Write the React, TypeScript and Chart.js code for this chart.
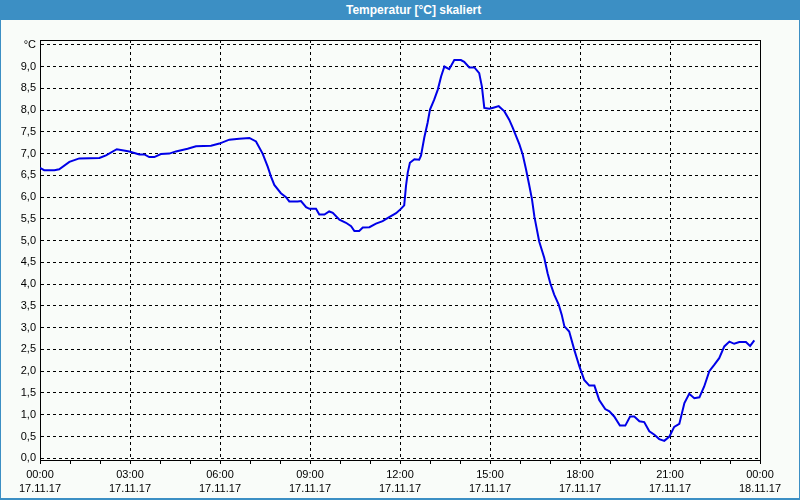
import React, { useEffect, useRef } from "react";
import { Chart, registerables } from "chart.js";

Chart.register(...registerables);

// Time of day in hours (17.11.17 00:00 = 0)
const hours: number[] = [
  0.0, 0.14, 0.48, 0.64, 0.98, 1.31, 1.98, 2.2, 2.56, 2.98, 3.31, 3.48, 3.64, 3.81,
  4.03, 4.31, 4.53, 4.92, 5.2, 5.7, 5.98, 6.31, 6.64, 6.98, 7.2, 7.42, 7.59, 7.7,
  7.81, 8.03, 8.2, 8.31, 8.59, 8.7, 8.87, 8.98, 9.2, 9.31, 9.48, 9.64, 9.76, 9.98,
  10.2, 10.37, 10.48, 10.64, 10.76, 10.98, 11.2, 11.42, 11.64, 11.87, 12.03, 12.14,
  12.2, 12.26, 12.33, 12.48, 12.64, 12.7, 12.81, 12.92, 13.0, 13.14, 13.26, 13.37,
  13.48, 13.64, 13.81, 14.03, 14.14, 14.31, 14.48, 14.64, 14.73, 14.81, 14.98, 15.14,
  15.29, 15.48, 15.64, 15.76, 15.87, 15.98, 16.09, 16.2, 16.3, 16.4, 16.48, 16.64,
  16.81, 16.92, 17.01, 17.14, 17.29, 17.39, 17.48, 17.64, 17.81, 17.98, 18.14, 18.31,
  18.48, 18.64, 18.84, 18.98, 19.14, 19.33, 19.51, 19.67, 19.81, 19.98, 20.14, 20.31,
  20.48, 20.64, 20.81, 20.98, 21.14, 21.31, 21.48, 21.64, 21.81, 21.98, 22.14, 22.31,
  22.48, 22.64, 22.81, 22.98, 23.14, 23.31, 23.53, 23.67, 23.81,
];

const temps: number[] = [
  6.67, 6.62, 6.62, 6.64, 6.81, 6.89, 6.9, 6.96, 7.1, 7.05, 6.98, 6.98, 6.92, 6.92,
  6.99, 7.0, 7.05, 7.11, 7.17, 7.18, 7.23, 7.32, 7.34, 7.36, 7.28, 7.0, 6.7, 6.47,
  6.28, 6.09, 6.0, 5.9, 5.9, 5.91, 5.77, 5.73, 5.73, 5.6, 5.6, 5.67, 5.64, 5.48,
  5.41, 5.33, 5.22, 5.22, 5.3, 5.31, 5.39, 5.45, 5.54, 5.63, 5.73, 5.81,
  6.26, 6.57, 6.79, 6.87, 6.86, 6.95, 7.37, 7.71, 8.01, 8.24, 8.47, 8.77,
  9.0, 8.94, 9.15, 9.15, 9.11, 8.98, 8.98, 8.85, 8.54, 8.05, 8.03, 8.06,
  8.09, 7.97, 7.78, 7.59, 7.4, 7.21, 6.98, 6.64, 6.3, 5.95, 5.55, 4.98,
  4.6, 4.25, 4.02, 3.76, 3.53, 3.3, 3.03, 2.91, 2.49, 2.11, 1.8, 1.67,
  1.67, 1.34, 1.13, 1.08, 0.96, 0.75, 0.75, 0.96, 0.96, 0.85, 0.83, 0.62,
  0.54, 0.44, 0.4, 0.5, 0.72, 0.79, 1.27, 1.48, 1.38, 1.4, 1.65, 2.0,
  2.15, 2.3, 2.57, 2.68, 2.63, 2.67, 2.67, 2.58, 2.71,
];

// Axis tick definitions
const yTickValues: number[] = [
  0, 0.5, 1, 1.5, 2, 2.5, 3, 3.5, 4, 4.5, 5, 5.5, 6, 6.5, 7, 7.5, 8, 8.5, 9, 9.5,
];
const yUnitLabel = "°C";
const xMajorHours: number[] = [0, 3, 6, 9, 12, 15, 18, 21, 24];
const xTimeLabels: string[] = ["00:00", "03:00", "06:00", "09:00", "12:00", "15:00", "18:00", "21:00", "00:00"];
const xDateLabels: string[] = [
  "17.11.17", "17.11.17", "17.11.17", "17.11.17", "17.11.17",
  "17.11.17", "17.11.17", "17.11.17", "18.11.17",
];

const TITLE = "Temperatur [°C] skaliert";
const FONT = "'Liberation Sans', Arial, sans-serif";

export default function App() {
  const canvasRef = useRef<HTMLCanvasElement | null>(null);

  useEffect(() => {
    const canvas = canvasRef.current;
    if (!canvas) return;

    const framePlugin = {
      id: "frame",
      beforeDatasetsDraw(chart: any) {
        const { ctx, chartArea } = chart;
        ctx.save();
        ctx.strokeStyle = "#000";
        ctx.lineWidth = 1;
        ctx.setLineDash([]);
        ctx.strokeRect(
          chartArea.left + 0.5,
          chartArea.top + 0.5,
          chartArea.right - chartArea.left,
          chartArea.bottom - chartArea.top
        );
        ctx.restore();
      },
    };

    const chart = new Chart(canvas, {
      type: "line",
      data: {
        datasets: [
          {
            data: hours.map((h, i) => ({ x: h, y: temps[i] })),
            borderColor: "#0000e8",
            borderWidth: 2,
            pointRadius: 0,
            tension: 0,
            fill: false,
          },
        ],
      },
      options: {
        responsive: false,
        animation: false,
        devicePixelRatio: 1,
        layout: { padding: { left: 0, top: 20, right: 39, bottom: 0 } },
        plugins: {
          legend: { display: false },
          title: { display: false },
          tooltip: { enabled: false },
        },
        scales: {
          x: {
            type: "linear",
            min: 0,
            max: 24,
            offset: false,
            afterBuildTicks: (scale: any) => {
              const t = [];
              for (let h = 0; h <= 24; h++) t.push({ value: h });
              scale.ticks = t;
            },
            afterFit: (scale: any) => {
              scale.height = 38;
              scale.paddingLeft = 0;
              scale.paddingRight = 0;
            },
            ticks: {
              autoSkip: false,
              maxRotation: 0,
              minRotation: 0,
              padding: 3,
              color: "#000",
              font: { family: FONT, size: 11, lineHeight: 1.36 },
              callback: (v: any) => {
                const idx = xMajorHours.indexOf(Number(v));
                if (idx < 0) return "";
                return [xTimeLabels[idx], xDateLabels[idx]];
              },
            },
            grid: {
              drawOnChartArea: true,
              drawTicks: true,
              tickLength: 4,
              lineWidth: 1,
              color: (ctx: any) =>
                ctx.tick && xMajorHours.indexOf(ctx.tick.value) >= 0 ? "#000" : "rgba(0,0,0,0)",
              tickColor: "#000",
            },
            border: { display: true, color: "#000", width: 1, dash: [3, 3] },
          },
          y: {
            type: "linear",
            min: -0.04,
            max: 9.61,
            afterBuildTicks: (scale: any) => {
              scale.ticks = yTickValues.map((v) => ({ value: v }));
            },
            afterFit: (scale: any) => {
              scale.width = 39;
              scale.paddingTop = 0;
              scale.paddingBottom = 0;
            },
            ticks: {
              autoSkip: false,
              padding: 4,
              color: "#000",
              font: { family: FONT, size: 11 },
              callback: (v: any) =>
                Number(v) === 9.5 ? yUnitLabel : Number(v).toFixed(1).replace(".", ","),
            },
            grid: {
              drawOnChartArea: true,
              drawTicks: false,
              lineWidth: 1,
              color: "#000",
            },
            border: { display: true, color: "#000", width: 1, dash: [3, 3] },
          },
        },
      },
      plugins: [framePlugin],
    } as any);

    return () => {
      chart.destroy();
    };
  }, []);

  return (
    <div
      style={{
        position: "fixed",
        left: 0,
        top: 0,
        width: 800,
        height: 500,
        background: "rgb(60,143,196)",
        overflow: "hidden",
      }}
    >
      <div
        style={{
          position: "absolute",
          left: 0,
          top: 0,
          width: 800,
          height: 20,
          color: "#fff",
          fontFamily: FONT,
          fontWeight: "bold",
          fontSize: 12,
          lineHeight: "20px",
        }}
      >
        <span style={{ position: "absolute", left: 346, top: 0, whiteSpace: "nowrap" }}>{TITLE}</span>
      </div>
      <div
        style={{
          position: "absolute",
          left: 1,
          top: 20,
          width: 798,
          height: 478,
          background: "#f9fcf9",
        }}
      >
        <canvas ref={canvasRef} width={798} height={478} style={{ display: "block" }} />
      </div>
    </div>
  );
}
